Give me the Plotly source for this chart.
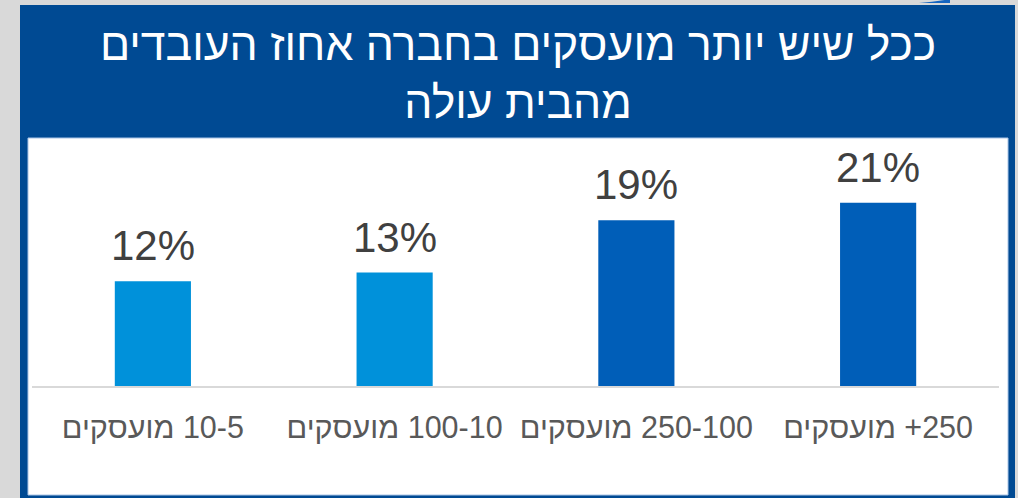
import plotly.graph_objects as go

# ---- data ----
# LRM keeps the number as a left-to-right run placed after (to the right of) the Hebrew word
LRM = "\u200e"
categories = ["מועסקים " + LRM + "10-5", "מועסקים " + LRM + "100-10",
              "מועסקים " + LRM + "250-100", "מועסקים " + LRM + "+250"]
values = [12, 13, 19, 21]
value_labels = ["12%", "13%", "19%", "21%"]
bar_colors = ["#0091da", "#0091da", "#005eb8", "#005eb8"]
title_lines = ["ככל שיש יותר מועסקים בחברה אחוז העובדים", "מהבית עולה"]

W, H = 1018, 498
ML, MR, MT, MB = 32, 19, 140, 112
PW, PH = W - ML - MR, H - MT - MB
PX_PER_UNIT = 8.73

def px(x):
    return (x - ML) / PW

def py(y):
    return (H - MB - y) / PH

FONT = "Liberation Sans, Arial, sans-serif"

fig = go.Figure()
fig.add_trace(go.Bar(
    x=categories, y=values,
    marker=dict(color=bar_colors, line=dict(width=0)),
    width=0.315,
    hoverinfo="skip",
))

shapes = [
    # blue frame
    dict(type="rect", xref="paper", yref="paper", layer="below",
         x0=px(20), x1=px(1015), y0=py(5), y1=py(498),
         fillcolor="#004a93", line=dict(width=0)),
    # white panel
    dict(type="rect", xref="paper", yref="paper", layer="below",
         x0=px(28), x1=px(1008), y0=py(138), y1=py(495),
         fillcolor="#ffffff", line=dict(width=1, color="#a9c4e6")),
    # small blue curve top right
    dict(type="path", xref="paper", yref="paper", layer="below",
         path=f"M {px(919)},{py(3)} Q {px(935)},{py(2)} {px(950)},{py(-1)} L {px(950)},{py(3)} Z",
         fillcolor="#1565c0", line=dict(width=0)),
]

annotations = [
    dict(text="<br>".join(title_lines), xref="paper", yref="paper",
         x=px(517.5), y=py(18), xanchor="center", yanchor="top",
         showarrow=False, align="center",
         font=dict(size=44.5, color="#ffffff", family=FONT)),
]
for c, v, lab in zip(categories, values, value_labels):
    annotations.append(dict(
        x=c, y=v, xref="x", yref="y", text=lab, showarrow=False,
        xanchor="center", yanchor="bottom", yshift=10,
        font=dict(size=42, color="#404040", family=FONT),
    ))

fig.update_layout(
    width=W, height=H,
    margin=dict(l=ML, r=MR, t=MT, b=MB, pad=0),
    paper_bgcolor="#d9d9d9",
    plot_bgcolor="rgba(0,0,0,0)",
    showlegend=False,
    shapes=shapes,
    annotations=annotations,
    xaxis=dict(
        showline=True, linecolor="#d9d9d9", linewidth=1.5,
        showgrid=False, zeroline=False,
        ticks="outside", ticklen=14, tickcolor="rgba(0,0,0,0)",
        tickfont=dict(size=30.5, color="#595959", family=FONT),
        fixedrange=True,
    ),
    yaxis=dict(
        range=[0, PH / PX_PER_UNIT],
        visible=False, showgrid=False, zeroline=False,
        fixedrange=True,
    ),
    bargap=0.685,
)

fig.write_html(
    "out.html",
    config={"displayModeBar": False},
    post_script="document.body.style.margin='0';document.body.style.overflow='hidden';",
)
